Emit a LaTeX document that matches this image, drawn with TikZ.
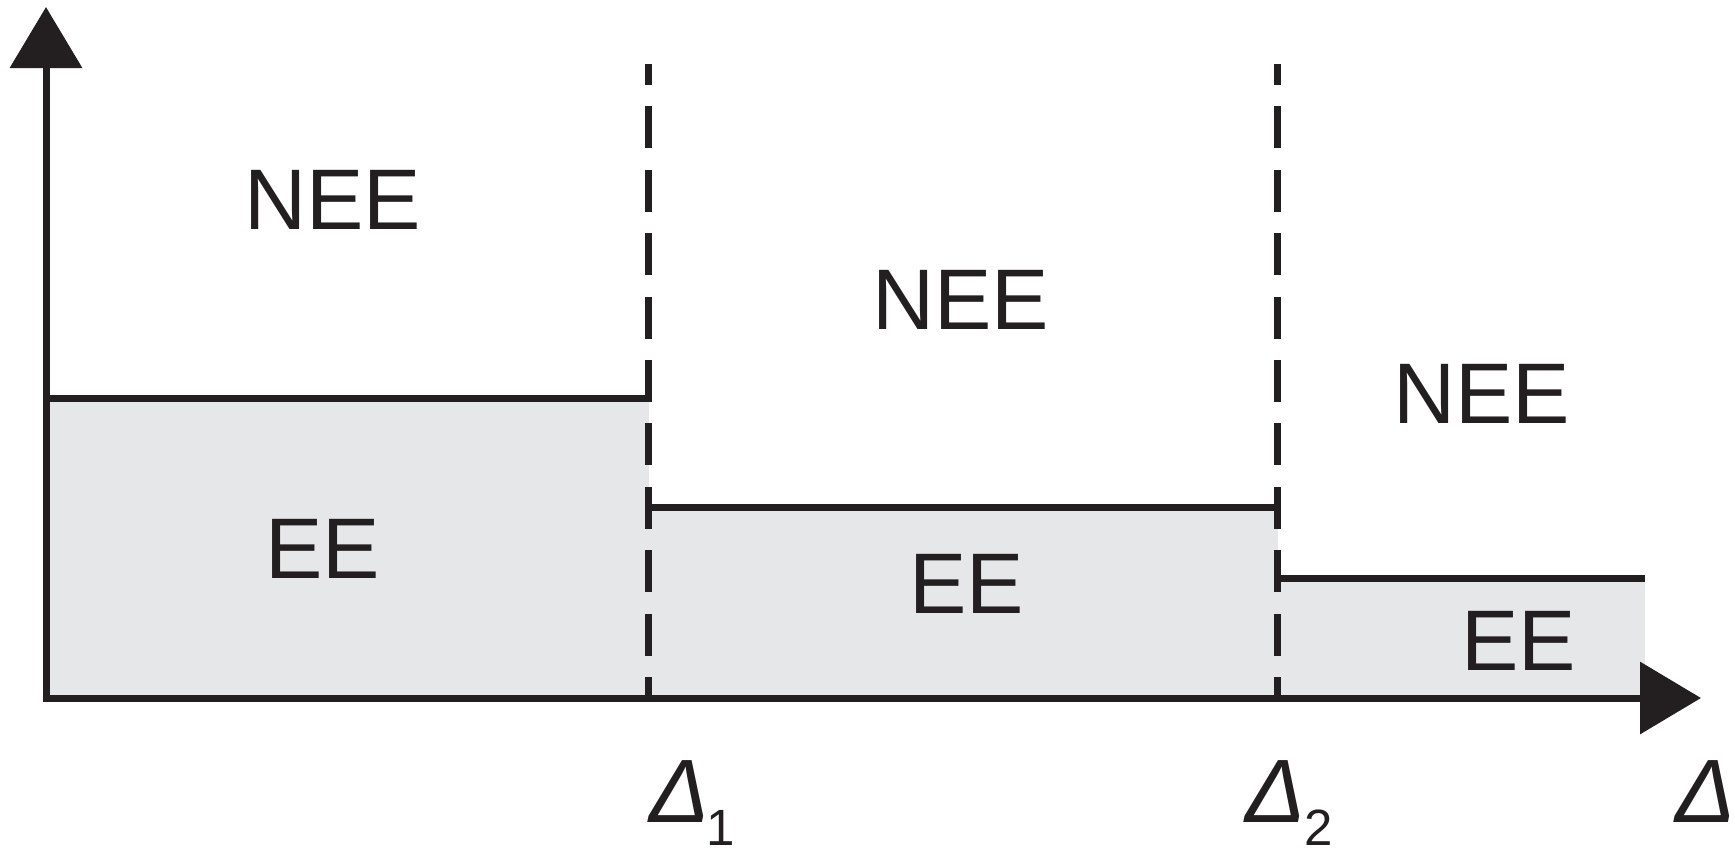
\documentclass[tikz,border=0pt]{standalone}
\usepackage{fontspec}
\setmainfont{Liberation Sans}
\usetikzlibrary{arrows.meta}
\definecolor{ink}{HTML}{231F20}
\definecolor{region}{HTML}{E6E7E8}
\tikzset{
  axisline/.style={draw=ink, line width=3.5pt, -{Triangle[length=30.5pt,width=35.5pt]}},
  stepline/.style={draw=ink, line width=3.5pt},
  boundary/.style={draw=ink, line width=3.5pt, dash pattern=on 21pt off 10.7pt, dash phase=10.5pt},
  zonelabel/.style={inner sep=0pt, anchor=base, text=ink, font=\fontsize{43}{43}\selectfont},
  deltalabel/.style={inner sep=0pt, anchor=base, text=ink, text depth=0pt, font=\fontsize{45}{45}\selectfont\itshape},
  sublabel/.style={inner sep=0pt, anchor=base, text=ink, text depth=0pt, text height=18pt, font=\fontsize{25.5}{25.5}\selectfont}
}
\begin{document}
\begin{tikzpicture}[x=0.5pt,y=-0.5pt]
  \useasboundingbox (0,0) rectangle (1735,853);

  % shaded regions below each threshold
  \fill[region] (46,398.5) rectangle (648.5,698);
  \fill[region] (648.5,507) rectangle (1277.5,698);
  \fill[region] (1277.5,578.5) rectangle (1645,698);

  % key points
  \coordinate (origin) at (46,698);
  \coordinate (ytip) at (46,7);
  \coordinate (xtip) at (1701,698);
  \coordinate (d1top) at (648.5,64);
  \coordinate (d1bot) at (648.5,698);
  \coordinate (d2top) at (1277.5,64);
  \coordinate (d2bot) at (1277.5,698);
  \coordinate (s1a) at (46,398.5);
  \coordinate (s1b) at (648.5,398.5);
  \coordinate (s2a) at (648.5,507);
  \coordinate (s2b) at (1277.5,507);
  \coordinate (s3a) at (1277.5,578.5);
  \coordinate (s3b) at (1645,578.5);

  % threshold boundaries
  \draw[boundary] (d1top) -- (d1bot);
  \draw[boundary] (d2top) -- (d2bot);

  % step levels
  \draw[stepline] (s1a) -- (s1b);
  \draw[stepline] (s2a) -- (s2b);
  \draw[stepline] (s3a) -- (s3b);

  % axes
  \draw[axisline] ([yshift=-1.75pt]origin) -- (ytip);
  \draw[axisline] ([xshift=-1.75pt]origin) -- (xtip);

  % region labels
  \node[zonelabel] (nee1) at (332.5,229) {NEE};
  \node[zonelabel] (nee2) at (960.5,329) {NEE};
  \node[zonelabel] (nee3) at (1481.5,423) {NEE};
  \node[zonelabel] (ee1) at (322.5,578) {EE};
  \node[zonelabel] (ee2) at (966.5,613) {EE};
  \node[zonelabel] (ee3) at (1518.5,670) {EE};

  % axis labels
  \node[deltalabel] (delta1) at (680,822) {Δ};
  \node[sublabel] (sub1) at (721,845) {1};
  \node[deltalabel] (delta2) at (1276,822) {Δ};
  \node[sublabel] (sub2) at (1319,845) {2};
  \node[deltalabel] (delta) at (1706,822) {Δ};
\end{tikzpicture}
\end{document}
